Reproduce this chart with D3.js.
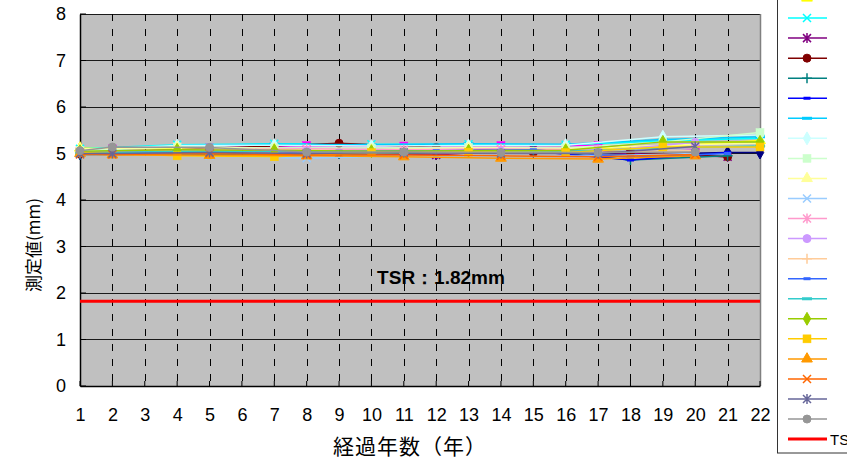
<!DOCTYPE html>
<html>
<head>
<meta charset="utf-8">
<script src="https://cdn.jsdelivr.net/npm/d3@7"></script>
<style>
  body { margin: 0; background: #fff; }
  text { font-family: "Liberation Sans", Arial, sans-serif; }
  .jp { font-family: "Noto Sans CJK JP", sans-serif; }
</style>
</head>
<body>
<svg id="chart" width="847" height="463"></svg>
<script>
// Axis ticks
const xTicks = [1, 2, 3, 4, 5, 6, 7, 8, 9, 10, 11, 12, 13, 14, 15, 16, 17, 18, 19, 20, 21, 22];
const yTicks = [0, 1, 2, 3, 4, 5, 6, 7, 8];

// Measurement years for each survey group
const yearsA = [1, 9, 12, 15, 18, 21];
const yearsA2 = [1, 9, 12, 15, 18, 21, 22];
const yearsB = [1, 4, 7, 10, 13, 16, 19, 22];
const yearsC = [1, 2, 5, 8, 11, 14, 17, 20];

// Measured thickness (mm) per point
const s01 = [5.00, 5.02, 5.00, 5.05, 4.98, 5.02, 5.02];
const s02 = [5.05, 5.10, 5.12, 5.17, 5.16, 5.17, 5.17, 5.10];
const s03 = [5.12, 5.10, 5.10, 5.08, 5.10, 5.08, 5.15, 5.28];
const s04 = [5.10, 5.19, 5.21, 5.20, 5.20, 5.19, 5.27, 5.33];
const s05 = [5.00, 5.00, 4.97, 5.10, 5.00, 4.93];
const s06 = [5.00, 5.22, 5.13, 5.02, 5.03, 4.93];
const s07 = [4.98, 4.99, 5.02, 5.07, 4.86, 4.95];
const s08 = [5.00, 5.03, 5.03, 5.05, 4.86, 5.02];
const s09 = [5.05, 5.17, 5.20, 5.19, 5.21, 5.20, 5.30, 5.36];
const s10 = [5.08, 5.17, 5.18, 5.16, 5.17, 5.18, 5.36, 5.40];
const s11 = [5.06, 5.14, 5.12, 5.12, 5.13, 5.12, 5.25, 5.45];
const s12 = [5.10, 5.13, 5.10, 5.08, 5.12, 5.10, 5.18, 5.22];
const s13 = [5.00, 4.98, 4.95, 4.90, 4.95, 4.93, 4.95, 5.00];
const s14 = [5.02, 5.05, 5.08, 5.10, 5.08, 5.10, 5.08, 5.12];
const s15 = [5.03, 5.00, 5.02, 5.05, 5.03, 5.05, 5.05, 5.24];
const s16 = [5.02, 5.04, 5.03, 5.00, 5.02, 5.00, 5.02, 5.06];
const s17 = [5.02, 5.05, 5.06, 5.08, 4.92, 5.00];
const s18 = [5.00, 5.05, 5.05, 5.04, 5.06, 5.05, 5.12, 5.16];
const s19 = [5.05, 5.08, 5.07, 5.05, 5.06, 5.07, 5.25, 5.25];
const s20 = [5.02, 4.95, 4.93, 5.02, 5.03, 5.02, 5.14, 5.14];
const s21 = [5.00, 4.97, 4.96, 4.95, 4.93, 4.90, 4.88, 4.95];
const s22 = [4.98, 4.98, 5.00, 4.97, 4.97, 4.95, 4.93, 4.98];
const s23 = [5.00, 5.00, 5.02, 5.00, 5.02, 5.00, 5.00, 5.15];
const s24 = [5.06, 5.14, 5.13, 5.03, 5.03, 5.02, 5.02, 5.03];

const tsrValue = 1.82;
const tsrLabel = "TSR：1.82mm";
const tsrLegend = "TSR";

// Series styles (colour, marker) in drawing order
const seriesList = [
  { years: yearsA2, values: s01, color: "#000080", shape: "diamond" },
  { years: yearsC, values: s02, color: "#FF00FF", shape: "square" },
  { years: yearsB, values: s03, color: "#FFFF00", shape: "triangle" },
  { years: yearsB, values: s04, color: "#00FFFF", shape: "x" },
  { years: yearsA, values: s05, color: "#800080", shape: "star" },
  { years: yearsA, values: s06, color: "#800000", shape: "circle" },
  { years: yearsA, values: s07, color: "#008080", shape: "plus" },
  { years: yearsA, values: s08, color: "#0000FF", shape: "dash" },
  { years: yearsB, values: s09, color: "#00CCFF", shape: "longdash" },
  { years: yearsB, values: s10, color: "#CCFFFF", shape: "diamond" },
  { years: yearsB, values: s11, color: "#CCFFCC", shape: "square" },
  { years: yearsB, values: s12, color: "#FFFF99", shape: "triangle" },
  { years: yearsC, values: s13, color: "#99CCFF", shape: "x" },
  { years: yearsC, values: s14, color: "#FF99CC", shape: "star" },
  { years: yearsC, values: s15, color: "#CC99FF", shape: "circle" },
  { years: yearsC, values: s16, color: "#FFCC99", shape: "plus" },
  { years: yearsA, values: s17, color: "#3366FF", shape: "dash" },
  { years: yearsB, values: s18, color: "#33CCCC", shape: "longdash" },
  { years: yearsB, values: s19, color: "#99CC00", shape: "diamond" },
  { years: yearsB, values: s20, color: "#FFCC00", shape: "square" },
  { years: yearsC, values: s21, color: "#FF9900", shape: "triangle" },
  { years: yearsC, values: s22, color: "#FF6600", shape: "x" },
  { years: yearsC, values: s23, color: "#666699", shape: "star" },
  { years: yearsC, values: s24, color: "#969696", shape: "circle" }
];

const svg = d3.select("#chart");
const plot = { left: 80, right: 760, top: 14, bottom: 386 };

const x = d3.scaleLinear().domain([1, 22]).range([plot.left, plot.right]);
const y = d3.scaleLinear().domain([0, 8]).range([plot.bottom, plot.top]);

// Plot background
svg.append("rect")
  .attr("x", plot.left).attr("y", plot.top)
  .attr("width", plot.right - plot.left).attr("height", plot.bottom - plot.top)
  .attr("fill", "#C0C0C0");

// Horizontal gridlines
svg.append("g").selectAll("line")
  .data(yTicks.filter(v => v > 0))
  .join("line")
  .attr("x1", plot.left).attr("x2", plot.right)
  .attr("y1", d => y(d)).attr("y2", d => y(d))
  .attr("stroke", "#1a1a1a").attr("stroke-width", 1)
  .attr("shape-rendering", "crispEdges");

// Vertical dashed gridlines
svg.append("g").selectAll("line")
  .data(xTicks.filter(v => v > 1 && v < 22))
  .join("line")
  .attr("x1", d => Math.round(x(d)) + 0.5).attr("x2", d => Math.round(x(d)) + 0.5)
  .attr("y1", plot.top).attr("y2", plot.bottom)
  .attr("stroke", "#000").attr("stroke-width", 1)
  .attr("stroke-dasharray", "7,8");

// Right edge of plot
svg.append("line")
  .attr("x1", plot.right + 0.5).attr("x2", plot.right + 0.5)
  .attr("y1", plot.top).attr("y2", plot.bottom)
  .attr("stroke", "#808080").attr("stroke-width", 1.5);

// Axes
const yAxis = d3.axisLeft(y).tickValues(yTicks).tickSize(0).tickPadding(14)
  .tickFormat(d3.format("d"));
const gy = svg.append("g").attr("transform", `translate(${plot.left},0)`).call(yAxis);
gy.select(".domain").attr("stroke", "#000").attr("stroke-width", 1.5);
gy.selectAll("text").attr("font-size", 18).attr("fill", "#000")
  .attr("font-family", "Liberation Sans, Arial, sans-serif");

const xAxis = d3.axisBottom(x).tickValues(xTicks).tickSize(0).tickPadding(22)
  .tickFormat(d3.format("d"));
const gx = svg.append("g").attr("transform", `translate(0,${plot.bottom})`).call(xAxis);
gx.select(".domain").attr("stroke", "#000").attr("stroke-width", 1.5);
gx.selectAll("text").attr("font-size", 18).attr("fill", "#000")
  .attr("font-family", "Liberation Sans, Arial, sans-serif");

// Inside tick marks
svg.append("g").selectAll("line")
  .data(xTicks)
  .join("line")
  .attr("x1", d => x(d)).attr("x2", d => x(d))
  .attr("y1", plot.bottom).attr("y2", plot.bottom - 5)
  .attr("stroke", "#000");
svg.append("g").selectAll("line")
  .data(yTicks)
  .join("line")
  .attr("x1", plot.left).attr("x2", plot.left + 6)
  .attr("y1", d => y(d)).attr("y2", d => y(d))
  .attr("stroke", "#000");

// Axis titles
svg.append("text").attr("class", "jp")
  .attr("transform", `translate(40,${(plot.top + plot.bottom) / 2 + 45}) rotate(-90)`)
  .attr("text-anchor", "middle")
  .attr("font-size", 17).attr("fill", "#000")
  .text("測定値(mm)");

svg.append("text").attr("class", "jp")
  .attr("x", 410).attr("y", 454)
  .attr("text-anchor", "middle")
  .attr("font-size", 21).attr("fill", "#000")
  .attr("letter-spacing", 1)
  .text("経過年数（年）");

// Marker drawing
function drawMarker(g, shape, color, cx, cy) {
  const m = g.append("g").attr("transform", `translate(${cx},${cy})`);
  switch (shape) {
    case "diamond":
      m.append("path").attr("d", d3.symbol(d3.symbolDiamond, 48)())
        .attr("fill", color).attr("stroke", color);
      break;
    case "square":
      m.append("rect").attr("x", -4).attr("y", -4).attr("width", 8).attr("height", 8)
        .attr("fill", color).attr("stroke", color).attr("stroke-width", 0.5);
      break;
    case "triangle":
      m.append("path").attr("d", d3.symbol(d3.symbolTriangle, 50)())
        .attr("fill", color).attr("stroke", color);
      break;
    case "circle":
      m.append("circle").attr("r", 4).attr("fill", color).attr("stroke", color);
      break;
    case "x":
      m.append("path").attr("d", "M-4,-4L4,4M-4,4L4,-4")
        .attr("stroke", color).attr("stroke-width", 1.5).attr("fill", "none");
      break;
    case "star":
      m.append("path").attr("d", "M-4,-4L4,4M-4,4L4,-4M0,-5L0,5")
        .attr("stroke", color).attr("stroke-width", 1.5).attr("fill", "none");
      break;
    case "plus":
      m.append("path").attr("d", "M-5,0L5,0M0,-5L0,5")
        .attr("stroke", color).attr("stroke-width", 1.5).attr("fill", "none");
      break;
    case "dash":
      m.append("rect").attr("x", -3.5).attr("y", -1.5).attr("width", 7).attr("height", 3)
        .attr("fill", color);
      break;
    case "longdash":
      m.append("rect").attr("x", -5).attr("y", -1.5).attr("width", 10).attr("height", 3)
        .attr("fill", color);
      break;
  }
}

const line = d3.line().x(d => x(d.year)).y(d => y(d.value));

// Series lines and markers
const seriesLayer = svg.append("g");
seriesList.forEach(s => {
  const pts = s.years.map((yr, i) => ({ year: yr, value: s.values[i] }));
  const g = seriesLayer.append("g");
  g.append("path").datum(pts)
    .attr("d", line)
    .attr("fill", "none")
    .attr("stroke", s.color)
    .attr("stroke-width", 1.5);
  pts.forEach(p => drawMarker(g, s.shape, s.color, x(p.year), y(p.value)));
});

// TSR threshold line
svg.append("line")
  .attr("x1", plot.left).attr("x2", plot.right)
  .attr("y1", y(tsrValue)).attr("y2", y(tsrValue))
  .attr("stroke", "#FF0000").attr("stroke-width", 3);

svg.append("text")
  .attr("x", 441).attr("y", 284)
  .attr("text-anchor", "middle")
  .attr("font-size", 19).attr("font-weight", "bold").attr("fill", "#000")
  .attr("font-family", "Liberation Sans, 'Noto Sans CJK JP', sans-serif")
  .text(tsrLabel);

// Legend
const legend = svg.append("g");
legend.append("rect")
  .attr("x", 777.5).attr("y", -10)
  .attr("width", 90).attr("height", 463)
  .attr("fill", "#fff").attr("stroke", "#333").attr("stroke-width", 1);

const legendY = i => -2 + (i - 2) * 20.05;
seriesList.forEach((s, i) => {
  const ly = legendY(i);
  if (ly < -10) return;
  legend.append("line")
    .attr("x1", 788).attr("x2", 827)
    .attr("y1", ly).attr("y2", ly)
    .attr("stroke", s.color).attr("stroke-width", 1.5);
  drawMarker(legend, s.shape, s.color, 807, ly);
});
const tsrY = legendY(seriesList.length);
legend.append("line")
  .attr("x1", 788).attr("x2", 827)
  .attr("y1", tsrY).attr("y2", tsrY)
  .attr("stroke", "#FF0000").attr("stroke-width", 3);
legend.append("text")
  .attr("x", 830).attr("y", tsrY + 5.5)
  .attr("font-size", 15).attr("fill", "#000")
  .text(tsrLegend);
</script>
</body>
</html>
